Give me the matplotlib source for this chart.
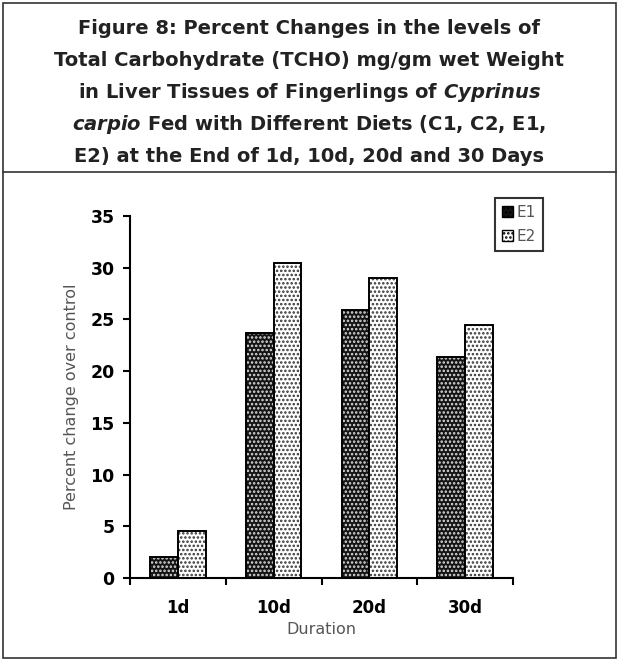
import matplotlib
matplotlib.use("Agg")
import matplotlib.pyplot as plt
import numpy as np
from matplotlib.patches import Rectangle, Patch
from matplotlib.lines import Line2D

durations = ["1d", "10d", "20d", "30d"]
e1_values = [2.0, 23.7, 25.9, 21.4]
e2_values = [4.5, 30.5, 29.0, 24.5]
yticks = [0, 5, 10, 15, 20, 25, 30, 35]

title_lines = [
    "Figure 8: Percent Changes in the levels of",
    "Total Carbohydrate (TCHO) mg/gm wet Weight",
    "in Liver Tissues of Fingerlings of $\\mathbfit{Cyprinus}$",
    "$\\mathbfit{carpio}$ Fed with Different Diets (C1, C2, E1,",
    "E2) at the End of 1d, 10d, 20d and 30 Days",
]

plt.rcParams["hatch.linewidth"] = 1.2
plt.rcParams["mathtext.fontset"] = "dejavusans"

fig = plt.figure(figsize=(6.19, 6.61), dpi=100)

# frame around figure and the line under the title block
fig.patches.append(Rectangle((0.005, 0.004), 0.99, 0.991, transform=fig.transFigure,
                             fill=False, edgecolor="#333333", linewidth=1.2))
fig.lines.append(Line2D([0.005, 0.995], [1 - 172 / 661, 1 - 172 / 661],
                        transform=fig.transFigure, color="#333333", linewidth=1.2))

line_y = [28, 61, 93, 125, 157]
for txt, py in zip(title_lines, line_y):
    fig.text(0.5, 1 - py / 661, txt, ha="center", va="center",
             fontsize=14, fontweight="bold", color="#222222")

ax = fig.add_axes([130 / 619, 1 - 578 / 661, 383 / 619, 362 / 661])
x = np.arange(len(durations))
w = 0.29

# E1: dark bars with white dots, E2: white bars with dark dots
ax.bar(x - w / 2, e1_values, w, color="#141414", edgecolor="#dddddd", hatch="....", linewidth=0)
ax.bar(x - w / 2, e1_values, w, fill=False, edgecolor="black", linewidth=1.4)
ax.bar(x + w / 2, e2_values, w, color="white", edgecolor="#333333", hatch="....", linewidth=0)
ax.bar(x + w / 2, e2_values, w, fill=False, edgecolor="black", linewidth=1.4)

ax.set_xlim(-0.5, 3.5)
ax.set_ylim(0, 35)
ax.set_yticks(yticks)
ax.set_yticklabels([str(v) for v in yticks], fontsize=12.5, fontweight="bold")
ax.set_xticks(x)
ax.set_xticklabels(durations, fontsize=12, fontweight="bold")
ax.set_xticks(np.arange(-0.5, 4.0, 1.0), minor=True)
ax.tick_params(axis="x", which="major", length=0, pad=15)
ax.tick_params(axis="x", which="minor", length=5, width=1.5, direction="out")
ax.tick_params(axis="y", length=5, width=1.5, direction="out", pad=6)

for side in ["top", "right"]:
    ax.spines[side].set_visible(False)
for side in ["left", "bottom"]:
    ax.spines[side].set_linewidth(1.5)

ax.set_ylabel("Percent change over control", fontsize=11.5, color="#555555", labelpad=8)
ax.set_xlabel("Duration", fontsize=11.5, color="#555555", labelpad=4)

handles = [
    Patch(facecolor="#141414", edgecolor="black", hatch="...."),
    Patch(facecolor="white", edgecolor="black", hatch="...."),
]
leg = fig.legend(handles, ["E1", "E2"], loc="upper left",
                 bbox_to_anchor=(495 / 619, 1 - 198 / 661), fontsize=11,
                 frameon=True, fancybox=False, handlelength=0.7, handleheight=0.7,
                 handletextpad=0.25, borderpad=0.45, labelspacing=0.6, borderaxespad=0)
leg.get_frame().set_edgecolor("black")
leg.get_frame().set_linewidth(1.5)
for t in leg.get_texts():
    t.set_color("#555555")

fig.savefig("out.png", dpi=100)
